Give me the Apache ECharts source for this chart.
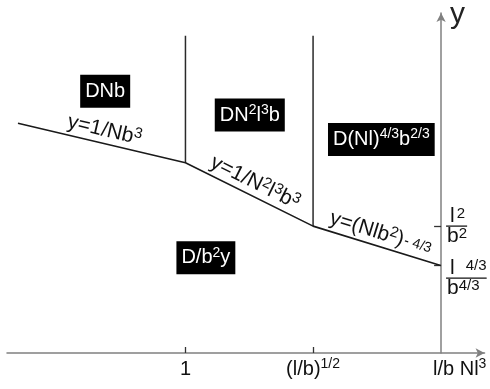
<!DOCTYPE html>
<html>
<head>
<meta charset="utf-8">
<script src="https://cdn.jsdelivr.net/npm/echarts@6/dist/echarts.min.js"></script>
<style>
  html, body { margin: 0; padding: 0; background: #fff; }
  #chart { width: 490px; height: 389px; }
</style>
</head>
<body>
<div id="chart"></div>
<script>
// Crossover curve between the scaling regimes (log-log axes, arbitrary units)
const crossoverX = [-0.3125, 1, 2, 3];
const crossoverY = [3.62, 3.0, 2.0, 1.38];

// Regime boundaries rising vertically from the crossover curve
const boundaryX = [1, 2];
const boundaryTop = 5.0;

// Axis ticks
const xTickValues = [1, 2, 3];
const xTickLabels = ['1', '(l/b){sup|1/2}', '{far|l/b Nl}{sup|3}'];
const yTickValues = [1.38, 2];
const yTickLabels = [
  '{num|l}{nsup2|4/3}\n{hr|}\n{den|b}{dsup|4/3}',
  '{num|l}{nsup|2}\n{hr|}\n{den|b}{dsup|2}'
];
// the lower fraction hangs a little below its tick
const yLabelDrop = [0.2, 0];

// Scaling law written along each segment of the curve
const lawLabels = [
  'y=1/Nb{sup|3}',
  'y=1/N{sup|2}l{sup|3}b{sup|3}',
  'y=(Nlb{sup|2}){low|- 4/3}'
];

// Regime names and their anchors
const regimeNames = ['DNb', 'DN{sup|2}l{sup|3}b', 'D(Nl){sup|4/3}b{sup|2/3}', 'D/b{sup|2}y'];
const regimeX = [0.371, 1.504, 2.535, 1.16];
const regimeY = [4.125, 3.75, 3.367, 1.5];

const FONT = 'Liberation Sans, Arial, Helvetica, sans-serif';

const curve = crossoverX.map((x, i) => [x, crossoverY[i]]);
const yLabelAnchors = yTickValues.map((v, i) => +(v - yLabelDrop[i]).toFixed(3));

const boundarySeries = boundaryX.map(bx => {
  const idx = crossoverX.indexOf(bx);
  return {
    type: 'line',
    data: [[bx, crossoverY[idx]], [bx, boundaryTop]],
    symbol: 'none',
    silent: true,
    lineStyle: { color: '#2a2a2a', width: 1.5 },
    z: 3
  };
});

const lawMarks = lawLabels.map((txt, i) => [
  { coord: [crossoverX[i], crossoverY[i]], label: { formatter: txt } },
  { coord: [crossoverX[i + 1], crossoverY[i + 1]] }
]);

const chart = echarts.init(document.getElementById('chart'), null, { renderer: 'canvas' });

chart.setOption({
  animation: false,
  backgroundColor: '#fff',
  grid: { left: 7, right: 4, top: 10, bottom: 36 },
  xAxis: {
    type: 'value',
    min: -0.3984,
    max: 3.344,
    splitLine: { show: false },
    axisLine: {
      onZero: false,
      lineStyle: { color: '#808080', width: 1.5 },
      symbol: ['none', 'arrow'],
      symbolSize: [7, 9]
    },
    axisTick: {
      show: true,
      inside: true,
      length: 6,
      customValues: [1, 2],
      lineStyle: { color: '#333', width: 1.3 }
    },
    axisLabel: {
      customValues: xTickValues,
      hideOverlap: false,
      margin: 4,
      color: '#111',
      fontFamily: FONT,
      fontSize: 20,
      lineHeight: 24,
      verticalAlign: 'top',
      formatter: v => xTickLabels[xTickValues.indexOf(v)],
      rich: {
        sup: { fontFamily: FONT, fontSize: 14, lineHeight: 14, verticalAlign: 'top', color: '#111' },
        far: { fontFamily: FONT, fontSize: 20, lineHeight: 24, color: '#111', padding: [0, 0, 0, 38] }
      }
    }
  },
  yAxis: {
    type: 'value',
    min: 0,
    max: 5.359,
    position: 'right',
    offset: -43.5,
    name: 'y',
    nameLocation: 'end',
    nameGap: 13,
    nameTextStyle: {
      fontFamily: FONT,
      fontSize: 30,
      color: '#222',
      align: 'left',
      verticalAlign: 'top',
      padding: [0, 0, 0, 9]
    },
    splitLine: { show: false },
    axisLine: {
      onZero: false,
      lineStyle: { color: '#808080', width: 1.5 },
      symbol: ['none', 'arrow'],
      symbolSize: [7, 9]
    },
    axisTick: {
      show: true,
      inside: true,
      length: 7,
      customValues: yTickValues,
      lineStyle: { color: '#333', width: 1.3 }
    },
    axisLabel: {
      customValues: yLabelAnchors,
      hideOverlap: false,
      margin: 5,
      align: 'left',
      color: '#111',
      fontFamily: FONT,
      formatter: v => yTickLabels[yLabelAnchors.indexOf(v)],
      rich: {
        num: { fontFamily: FONT, fontSize: 21, lineHeight: 20, color: '#111', padding: [0, 0, 0, 4] },
        nsup: { fontFamily: FONT, fontSize: 15, lineHeight: 14, verticalAlign: 'top', color: '#111', padding: [0, 0, 0, 2] },
        nsup2: { fontFamily: FONT, fontSize: 15, lineHeight: 14, verticalAlign: 'top', color: '#111', padding: [0, 0, 0, 11] },
        hr: { borderColor: '#111', width: '100%', borderWidth: 0.8, height: 0 },
        den: { fontFamily: FONT, fontSize: 21, lineHeight: 20, color: '#111', padding: [0, 0, 0, 1] },
        dsup: { fontFamily: FONT, fontSize: 15, lineHeight: 16, verticalAlign: 'top', color: '#111' }
      }
    }
  },
  series: [
    {
      type: 'line',
      data: curve,
      symbol: 'none',
      silent: true,
      lineStyle: { color: '#1a1a1a', width: 1.6 },
      z: 4,
      markLine: {
        silent: true,
        symbol: ['none', 'none'],
        lineStyle: { color: 'transparent', width: 0 },
        label: {
          show: true,
          position: 'insideMiddleTop',
          distance: 1,
          color: '#111',
          fontFamily: FONT,
          fontSize: 21,
          lineHeight: 24,
          rich: {
            sup: { fontFamily: FONT, fontSize: 15, lineHeight: 15, verticalAlign: 'top', color: '#111' },
            low: { fontFamily: FONT, fontSize: 14, lineHeight: 20, color: '#111', padding: [0, 0, 0, 1] }
          }
        },
        data: lawMarks
      }
    },
    ...boundarySeries,
    {
      type: 'scatter',
      symbolSize: 0,
      silent: true,
      z: 5,
      itemStyle: { opacity: 1 },
      data: regimeNames.map((n, i) => ({ value: [regimeX[i], regimeY[i]], name: n })),
      label: {
        show: true,
        opacity: 1,
        position: 'inside',
        formatter: p => p.name,
        backgroundColor: '#000',
        color: '#fff',
        padding: [4.5, 5],
        fontFamily: FONT,
        fontSize: 20,
        lineHeight: 24,
        rich: {
          sup: { fontFamily: FONT, fontSize: 14, lineHeight: 14, verticalAlign: 'top', color: '#fff' }
        }
      }
    }
  ]
});
</script>
</body>
</html>
